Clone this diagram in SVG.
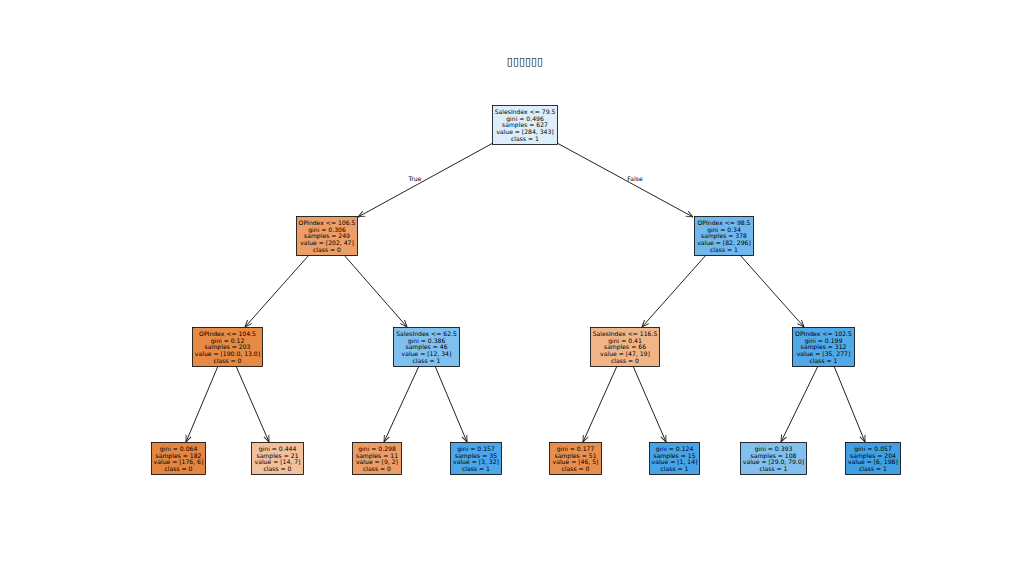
<svg xmlns="http://www.w3.org/2000/svg" width="1024" height="577" viewBox="0 0 1024 577">
<defs>
<style>
.n rect{stroke:#000;stroke-width:0.8}
.n text{font-family:"DejaVu Sans",sans-serif;font-size:6.1px;fill:#000;text-anchor:middle}
.e line{stroke:#222;stroke-width:1;marker-end:url(#ah)}
.lbl{font-family:"DejaVu Sans",sans-serif;font-size:6.1px;fill:#000;text-anchor:middle}
.title{font-family:"DejaVu Sans",sans-serif;font-size:11px;fill:#000;text-anchor:middle}
</style>
<marker id="ah" viewBox="0 0 10 10" refX="10" refY="5" markerWidth="7" markerHeight="7" markerUnits="userSpaceOnUse" orient="auto">
<path d="M0,1 L10,5 L0,9" fill="none" stroke="#222" stroke-width="1.3"/>
</marker>
</defs>
<rect width="1024" height="577" fill="#fff"/>
<text class="title" x="525" y="65">▯▯▯▯▯▯</text>
<g id="connectors" class="e">
<line x1="493" y1="143" x2="358" y2="217"/>
<line x1="557" y1="143" x2="693" y2="217"/>
<line x1="309" y1="255" x2="245" y2="327"/>
<line x1="344" y1="255" x2="407" y2="327"/>
<line x1="706" y1="255" x2="642" y2="327"/>
<line x1="740" y1="255" x2="804" y2="327"/>
<line x1="218" y1="366" x2="186" y2="442"/>
<line x1="236" y1="366" x2="269" y2="442"/>
<line x1="419" y1="366" x2="384" y2="442"/>
<line x1="435" y1="366" x2="467" y2="442"/>
<line x1="617" y1="366" x2="583" y2="442"/>
<line x1="633" y1="366" x2="666" y2="442"/>
<line x1="818" y1="366" x2="781" y2="442"/>
<line x1="834" y1="366" x2="865" y2="442"/>
</g>
<text class="lbl" x="415" y="181">True</text>
<text class="lbl" x="635" y="181">False</text>
<g id="n0" class="n"><rect x="492.5" y="105.5" width="65" height="39" fill="#ddeefb"/>
<text x="525" y="113.8">SalesIndex &lt;= 79.5</text><text x="525" y="120.6">gini = 0.496</text><text x="525" y="127.4">samples = 627</text><text x="525" y="134.2">value = [284, 343]</text><text x="525" y="141">class = 1</text></g>
<g id="n1" class="n"><rect x="296.5" y="216.5" width="61" height="39" fill="#eb9e67"/>
<text x="327" y="224.8">OPIndex &lt;= 106.5</text><text x="327" y="231.6">gini = 0.306</text><text x="327" y="238.4">samples = 249</text><text x="327" y="245.2">value = [202, 47]</text><text x="327" y="252">class = 0</text></g>
<g id="n2" class="n"><rect x="694.5" y="216.5" width="59" height="39" fill="#70b8ec"/>
<text x="724" y="224.8">OPIndex &lt;= 98.5</text><text x="724" y="231.6">gini = 0.34</text><text x="724" y="238.4">samples = 378</text><text x="724" y="245.2">value = [82, 296]</text><text x="724" y="252">class = 1</text></g>
<g id="n3" class="n"><rect x="192.5" y="327.5" width="70" height="39" fill="#e78a46"/>
<text x="227.5" y="335.8">OPIndex &lt;= 104.5</text><text x="227.5" y="342.6">gini = 0.12</text><text x="227.5" y="349.4">samples = 203</text><text x="227.5" y="356.2">value = [190.0, 13.0]</text><text x="227.5" y="363">class = 0</text></g>
<g id="n4" class="n"><rect x="393.5" y="327.5" width="66" height="39" fill="#7fc0ee"/>
<text x="426.5" y="335.8">SalesIndex &lt;= 62.5</text><text x="426.5" y="342.6">gini = 0.386</text><text x="426.5" y="349.4">samples = 46</text><text x="426.5" y="356.2">value = [12, 34]</text><text x="426.5" y="363">class = 1</text></g>
<g id="n5" class="n"><rect x="590.5" y="327.5" width="69" height="39" fill="#f0b489"/>
<text x="625" y="335.8">SalesIndex &lt;= 116.5</text><text x="625" y="342.6">gini = 0.41</text><text x="625" y="349.4">samples = 66</text><text x="625" y="356.2">value = [47, 19]</text><text x="625" y="363">class = 0</text></g>
<g id="n6" class="n"><rect x="792.5" y="327.5" width="62" height="39" fill="#52a9e8"/>
<text x="823.5" y="335.8">OPIndex &lt;= 102.5</text><text x="823.5" y="342.6">gini = 0.199</text><text x="823.5" y="349.4">samples = 312</text><text x="823.5" y="356.2">value = [35, 277]</text><text x="823.5" y="363">class = 1</text></g>
<g id="n7" class="n"><rect x="151.5" y="442.5" width="54" height="32" fill="#e68540"/>
<text x="178.5" y="450.8">gini = 0.064</text><text x="178.5" y="457.6">samples = 182</text><text x="178.5" y="464.4">value = [176, 6]</text><text x="178.5" y="471.2">class = 0</text></g>
<g id="n8" class="n"><rect x="251.5" y="442.5" width="52" height="32" fill="#f2c09c"/>
<text x="277.5" y="450.8">gini = 0.444</text><text x="277.5" y="457.6">samples = 21</text><text x="277.5" y="464.4">value = [14, 7]</text><text x="277.5" y="471.2">class = 0</text></g>
<g id="n9" class="n"><rect x="352.5" y="442.5" width="49" height="32" fill="#eb9d65"/>
<text x="377" y="450.8">gini = 0.298</text><text x="377" y="457.6">samples = 11</text><text x="377" y="464.4">value = [9, 2]</text><text x="377" y="471.2">class = 0</text></g>
<g id="n10" class="n"><rect x="450.5" y="442.5" width="51" height="32" fill="#4ca6e7"/>
<text x="476" y="450.8">gini = 0.157</text><text x="476" y="457.6">samples = 35</text><text x="476" y="464.4">value = [3, 32]</text><text x="476" y="471.2">class = 1</text></g>
<g id="n11" class="n"><rect x="549.5" y="442.5" width="52" height="32" fill="#e88f4f"/>
<text x="575.5" y="450.8">gini = 0.177</text><text x="575.5" y="457.6">samples = 51</text><text x="575.5" y="464.4">value = [46, 5]</text><text x="575.5" y="471.2">class = 0</text></g>
<g id="n12" class="n"><rect x="649.5" y="442.5" width="50" height="32" fill="#47a4e7"/>
<text x="674.5" y="450.8">gini = 0.124</text><text x="674.5" y="457.6">samples = 15</text><text x="674.5" y="464.4">value = [1, 14]</text><text x="674.5" y="471.2">class = 1</text></g>
<g id="n13" class="n"><rect x="740.5" y="442.5" width="66" height="32" fill="#82c1ef"/>
<text x="773.5" y="450.8">gini = 0.393</text><text x="773.5" y="457.6">samples = 108</text><text x="773.5" y="464.4">value = [29.0, 79.0]</text><text x="773.5" y="471.2">class = 1</text></g>
<g id="n14" class="n"><rect x="845.5" y="442.5" width="55" height="32" fill="#3fa0e6"/>
<text x="873" y="450.8">gini = 0.057</text><text x="873" y="457.6">samples = 204</text><text x="873" y="464.4">value = [6, 198]</text><text x="873" y="471.2">class = 1</text></g>
</svg>
